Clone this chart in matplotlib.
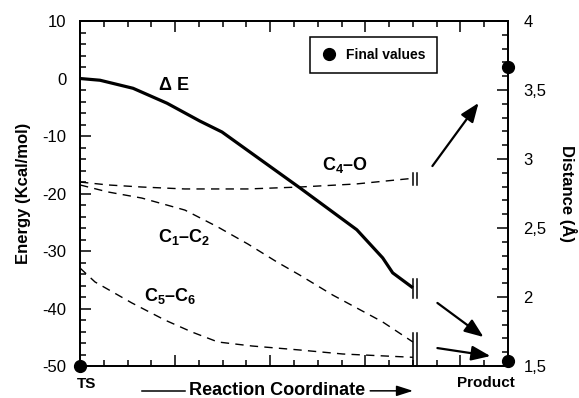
import numpy as np
import matplotlib
matplotlib.use("Agg")
import matplotlib.pyplot as plt
from matplotlib.lines import Line2D
from matplotlib.ticker import MultipleLocator, FuncFormatter

plt.rcParams['font.family'] = ['Liberation Sans', 'DejaVu Sans']
plt.rcParams['axes.unicode_minus'] = False
plt.rcParams['mathtext.fontset'] = 'custom'
plt.rcParams['mathtext.default'] = 'bf'
plt.rcParams['mathtext.bf'] = 'Liberation Sans:bold'
plt.rcParams['mathtext.rm'] = 'Liberation Sans:bold'

# energy profile along the reaction coordinate (Kcal/mol)
x_de = [0, 0.84, 2.23, 3.66, 5.04, 5.97, 9.24, 11.64, 12.73, 13.15, 14.0]
de = [0, -0.3, -1.7, -4.3, -7.4, -9.3, -19.0, -26.3, -31.2, -33.8, -36.4]

# bond distances (Angstrom)
x_c4o = [0, 1.18, 2.6, 4.4, 7.06, 9.24, 11.6, 13.7, 14.0]
c4o = [2.833, 2.812, 2.797, 2.783, 2.783, 2.797, 2.819, 2.855, 2.86]

x_c1c2 = [0, 1.18, 2.6, 4.41, 5.8, 7.06, 8.28, 9.24, 10.63, 12.73, 14.0]
c1c2 = [2.812, 2.761, 2.717, 2.630, 2.507, 2.384, 2.254, 2.159, 2.014, 1.819, 1.674]

x_c5c6 = [0, 0.63, 2.18, 3.57, 4.71, 5.8, 7.23, 9.24, 11.05, 14.0]
c5c6 = [2.210, 2.109, 1.957, 1.833, 1.746, 1.674, 1.645, 1.616, 1.587, 1.563]

# final values: TS energy, product distances
ts_x, ts_e = 0, -50
prod_x = 18
prod_d = [3.67, 1.535]

fig = plt.figure(figsize=(5.79, 3.98), dpi=100)
ax = fig.add_axes([0.1382, 0.0804, 0.7392, 0.8668])
ax2 = ax.twinx()

ax.plot(x_de, de, color='black', lw=2.3, solid_capstyle='butt', solid_joinstyle='round')
for xs, ys in [(x_c4o, c4o), (x_c1c2, c1c2), (x_c5c6, c5c6)]:
    ax2.plot(xs, ys, color='black', lw=1.0, dashes=(6, 4.5))

ax.plot([ts_x], [ts_e], 'o', color='black', ms=8.5, clip_on=False, zorder=5)
ax2.plot([prod_x] * 2, prod_d, 'o', color='black', ms=8.5, clip_on=False, zorder=5)

# break marks "||" at the end of each curve
xb = [x_de[-1], x_de[-1] + 0.17]
for x in xb:
    ax.plot([x, x], [de[-1] + 1.6, de[-1] - 1.8], color='black', lw=1.1)
    ax2.plot([x, x], [c4o[-1] - 0.045, c4o[-1] + 0.035], color='black', lw=1.1)
    ax2.plot([x, x], [1.5, c1c2[-1] + 0.065], color='black', lw=1.1)

ax.set_xlim(0, 18)
ax.set_ylim(-50, 10)
ax2.set_ylim(1.5, 4)

ax.xaxis.set_major_locator(MultipleLocator(4))
ax.xaxis.set_minor_locator(MultipleLocator(1))
ax.yaxis.set_major_locator(MultipleLocator(10))
ax.yaxis.set_minor_locator(MultipleLocator(2))
ax2.yaxis.set_major_locator(MultipleLocator(0.5))
ax2.yaxis.set_minor_locator(MultipleLocator(0.1))
ax2.yaxis.set_major_formatter(FuncFormatter(lambda v, p: f'{v:g}'.replace('.', ',')))
ax.set_xticklabels([])

ax.tick_params(which='both', direction='in', top=True, right=False, width=1.1, labelsize=12, pad=10)
ax.tick_params(which='major', length=8)
ax.tick_params(which='minor', length=4.5)
ax2.tick_params(which='both', direction='in', width=1.1, labelsize=12, pad=11)
ax2.tick_params(which='major', length=8)
ax2.tick_params(which='minor', length=4.5)
for a in (ax, ax2):
    for s in a.spines.values():
        s.set_linewidth(1.3)

ax.set_ylabel('Energy (Kcal/mol)', fontsize=12, fontweight='bold', labelpad=8)
ax2.set_ylabel('Distance (Å)', fontsize=12, fontweight='bold', rotation=-90, labelpad=22)

# curve labels
ax.text(3.96, -1.3, 'Δ E', fontsize=13, fontweight='bold', ha='center', va='center')
ax.text(11.16, -15.0, r'$C_4$–O', fontsize=13, fontweight='bold', ha='center', va='center')
ax.text(4.38, -27.6, r'$C_1$–$C_2$', fontsize=13, fontweight='bold', ha='center', va='center')
ax.text(3.79, -37.8, r'$C_5$–$C_6$', fontsize=13, fontweight='bold', ha='center', va='center')

# arrows pointing to final values
arrows = [((14.82, 2.949), (16.76, 3.406)),
          ((15.03, 1.957), (16.97, 1.710)),
          ((15.03, 1.630), (17.26, 1.572))]
for tail, head in arrows:
    ax2.annotate('', xy=head, xytext=tail,
                 arrowprops=dict(arrowstyle='-|>,head_length=1.15,head_width=0.45',
                                 color='black', lw=1.6, shrinkA=0, shrinkB=0))

# x-axis captions
ax.text(0.016, -0.052, 'TS', transform=ax.transAxes, fontsize=11, fontweight='bold',
        ha='center', va='center')
ax.text(0.949, -0.048, 'Product', transform=ax.transAxes, fontsize=11, fontweight='bold',
        ha='center', va='center')
ax.text(0.46, -0.072, 'Reaction Coordinate', transform=ax.transAxes, fontsize=13,
        fontweight='bold', ha='center', va='center')
ax.plot([0.145, 0.245], [-0.072, -0.072], transform=ax.transAxes, color='black', lw=1.1,
        clip_on=False)
ax.annotate('', xy=(0.778, -0.072), xytext=(0.678, -0.072), xycoords='axes fraction',
            arrowprops=dict(arrowstyle='-|>,head_length=1.0,head_width=0.32', color='black',
                            lw=1.1, shrinkA=0, shrinkB=0))

handle = Line2D([], [], marker='o', ls='none', color='black', ms=8.5)
leg = ax.legend([handle], ['Final values'], loc='upper left', bbox_to_anchor=(0.537, 0.954),
                frameon=True, fancybox=False, edgecolor='black', framealpha=1,
                prop={'weight': 'bold', 'size': 10}, borderpad=0.8, handletextpad=0.6,
                handlelength=1.2, borderaxespad=0)
leg.get_frame().set_linewidth(1.1)

fig.savefig('out.png', dpi=100)
